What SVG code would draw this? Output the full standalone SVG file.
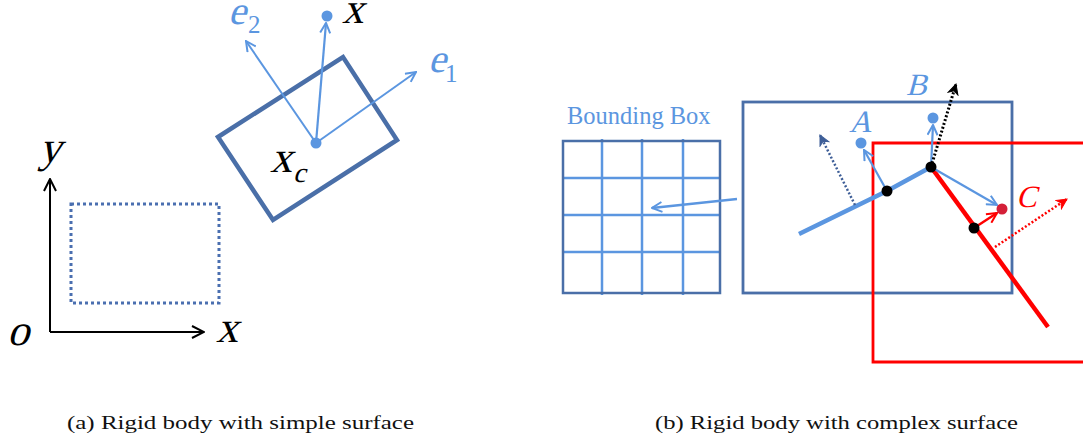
<svg xmlns="http://www.w3.org/2000/svg" width="1083" height="443" viewBox="0 0 1083 443">
<style>
.math{font-family:"Liberation Serif","Times New Roman",serif;font-style:normal}
.sub{font-family:"Liberation Serif","Times New Roman",serif}
.cap{font-family:"Liberation Serif","Times New Roman",serif;font-size:18px;fill:#111}
.lb{stroke:#5B96E0;fill:none}
.db{stroke:#4A6FA8;fill:none}
</style>
<defs>
<marker id="aLB" viewBox="0 0 12 12" refX="11" refY="6" markerWidth="12" markerHeight="12" markerUnits="userSpaceOnUse" orient="auto"><path d="M1,1 L11,6 L1,11" fill="none" stroke="#5B96E0" stroke-width="2"/></marker>
<marker id="aK" viewBox="0 0 14 14" refX="13" refY="7" markerWidth="14" markerHeight="14" markerUnits="userSpaceOnUse" orient="auto"><path d="M1,1 L13,7 L1,13" fill="none" stroke="#000" stroke-width="2"/></marker>
<marker id="aKd" viewBox="0 0 12 12" refX="11" refY="6" markerWidth="12" markerHeight="12" markerUnits="userSpaceOnUse" orient="auto"><path d="M1,1 L11,6 L1,11 L4,6 Z" fill="#000" stroke="#000" stroke-width="1"/></marker>
<marker id="aR" viewBox="0 0 12 12" refX="11" refY="6" markerWidth="12" markerHeight="12" markerUnits="userSpaceOnUse" orient="auto"><path d="M1,1 L11,6 L1,11" fill="none" stroke="#FF0000" stroke-width="2"/></marker>
<marker id="aRd" viewBox="0 0 12 12" refX="11" refY="6" markerWidth="12" markerHeight="12" markerUnits="userSpaceOnUse" orient="auto"><path d="M1,1 L11,6 L1,11 L4,6 Z" fill="#FF0000" stroke="#FF0000" stroke-width="1"/></marker>
<marker id="aDd" viewBox="0 0 12 12" refX="11" refY="6" markerWidth="12" markerHeight="12" markerUnits="userSpaceOnUse" orient="auto"><path d="M1,1 L11,6 L1,11 L4,6 Z" fill="#3F5F98" stroke="#3F5F98" stroke-width="1"/></marker>
</defs>

<!-- (a) -->
<g id="axes">
<line x1="50" y1="332" x2="50" y2="179" stroke="#000" stroke-width="2" marker-end="url(#aK)"/>
<line x1="50" y1="332" x2="204" y2="332" stroke="#000" stroke-width="2" marker-end="url(#aK)"/>
<text class="math" transform="translate(39 162) skewX(-15)" font-size="44">y</text>
<text class="math" transform="translate(7 345) skewX(-15)" font-size="44">o</text>
<text class="math" transform="translate(216 342) skewX(-15)" font-size="44">x</text>
</g>
<g id="dotted-rect">
<rect x="71" y="204" width="148" height="99" fill="none" stroke="#4A6FB0" stroke-width="3" stroke-dasharray="3,3"/>
</g>
<g id="rigid-body">
<polygon points="218,137 343,57 397,140 273,220" fill="none" stroke="#4A6FA8" stroke-width="4.5"/>
</g>
<g id="frame-arrows">
<line class="lb" x1="316" y1="143" x2="246" y2="41" stroke-width="2" marker-end="url(#aLB)"/>
<line class="lb" x1="316" y1="143" x2="416" y2="72" stroke-width="2" marker-end="url(#aLB)"/>
<line class="lb" x1="316" y1="143" x2="326" y2="23" stroke-width="2.2" marker-end="url(#aLB)"/>
</g>
<g id="xc">
<circle cx="316" cy="143" r="5.5" fill="#5B96E0"/>
<text class="math" transform="translate(270 172) skewX(-15)" font-size="44">x</text>
<text class="math" transform="translate(293 182) skewX(-15)" font-size="28">c</text>
</g>
<g id="point-x">
<circle cx="327" cy="16" r="5.5" fill="#5B96E0"/>
<text class="math" transform="translate(342 23) skewX(-15)" font-size="43">x</text>
</g>
<g id="labels-e">
<text class="math" transform="translate(228 24) skewX(-15)" font-size="40" fill="#5B96E0">e</text>
<text class="sub" x="248" y="33" font-size="25" fill="#5B96E0">2</text>
<text class="math" transform="translate(428 72) skewX(-15)" font-size="40" fill="#5B96E0">e</text>
<text class="sub" x="445" y="82" font-size="25" fill="#5B96E0">1</text>
</g>
<text class="cap" x="67" y="429" textLength="347" lengthAdjust="spacingAndGlyphs">(a) Rigid body with simple surface</text>

<!-- (b) -->
<g id="bounding-box">
<text x="567" y="124" font-family="Liberation Serif,Times New Roman,serif" font-size="24.5" fill="#5B96E0">Bounding Box</text>
<g class="lb" stroke-width="2.5">
<line x1="602" y1="139" x2="602" y2="295"/>
<line x1="642" y1="139" x2="642" y2="295"/>
<line x1="683" y1="139" x2="683" y2="295"/>
<line x1="562" y1="178" x2="721" y2="178"/>
<line x1="562" y1="215" x2="721" y2="215"/>
<line x1="562" y1="252" x2="721" y2="252"/>
</g>
<rect x="563" y="141" width="157" height="152" class="db" stroke-width="2.5"/>
</g>
<g id="blue-box">
<rect x="743" y="102" width="269" height="191" class="db" stroke-width="2.8"/>
</g>
<g id="red-box">
<polyline points="1083,143 873,143 873,362 1083,362" fill="none" stroke="#FF0000" stroke-width="2.8"/>
</g>
<g id="surfaces">
<polyline points="799,234 887,191 931,167" fill="none" stroke="#5B96E0" stroke-width="4.5"/>
<line x1="931" y1="167" x2="1048" y2="327" stroke="#FF0000" stroke-width="4.5"/>
</g>
<g id="connectors">
<line class="lb" x1="737" y1="199" x2="652" y2="208" stroke-width="2.5" marker-end="url(#aLB)"/>
<line class="lb" x1="887" y1="191" x2="864" y2="150" stroke-width="2.2" marker-end="url(#aLB)"/>
<line class="lb" x1="931" y1="167" x2="933" y2="125" stroke-width="2.2" marker-end="url(#aLB)"/>
<line class="lb" x1="931" y1="167" x2="997" y2="205" stroke-width="2.2" marker-end="url(#aLB)"/>
<line x1="974" y1="228" x2="997" y2="213" stroke="#FF0000" stroke-width="2.5" marker-end="url(#aR)"/>
<line x1="931" y1="167" x2="956" y2="84" stroke="#000" stroke-width="3" stroke-dasharray="2,2" marker-end="url(#aKd)"/>
<line x1="995" y1="247" x2="1067" y2="199" stroke="#FF0000" stroke-width="2.5" stroke-dasharray="2,2" marker-end="url(#aRd)"/>
<line x1="855" y1="205" x2="820" y2="135" stroke="#3F5F98" stroke-width="2.5" stroke-dasharray="2,2" marker-end="url(#aDd)"/>
</g>
<g id="contact-points">
<circle cx="887" cy="191" r="5.5" fill="#000"/>
<circle cx="931" cy="167" r="5.5" fill="#000"/>
<circle cx="974" cy="228" r="5.5" fill="#000"/>
</g>
<g id="point-A">
<circle cx="861" cy="143" r="5.5" fill="#5B96E0"/>
<text class="math" transform="translate(849 132) skewX(-15)" font-size="31" fill="#5B96E0">A</text>
</g>
<g id="point-B">
<circle cx="933" cy="118" r="5.5" fill="#5B96E0"/>
<text class="math" transform="translate(906 95) skewX(-15)" font-size="31" fill="#5B96E0">B</text>
</g>
<g id="point-C">
<circle cx="1002" cy="209" r="5.5" fill="#D42038"/>
<text class="math" transform="translate(1016 207) skewX(-15)" font-size="31" fill="#FF0000">C</text>
</g>
<text class="cap" x="655" y="429" textLength="363" lengthAdjust="spacingAndGlyphs">(b) Rigid body with complex surface</text>
</svg>
